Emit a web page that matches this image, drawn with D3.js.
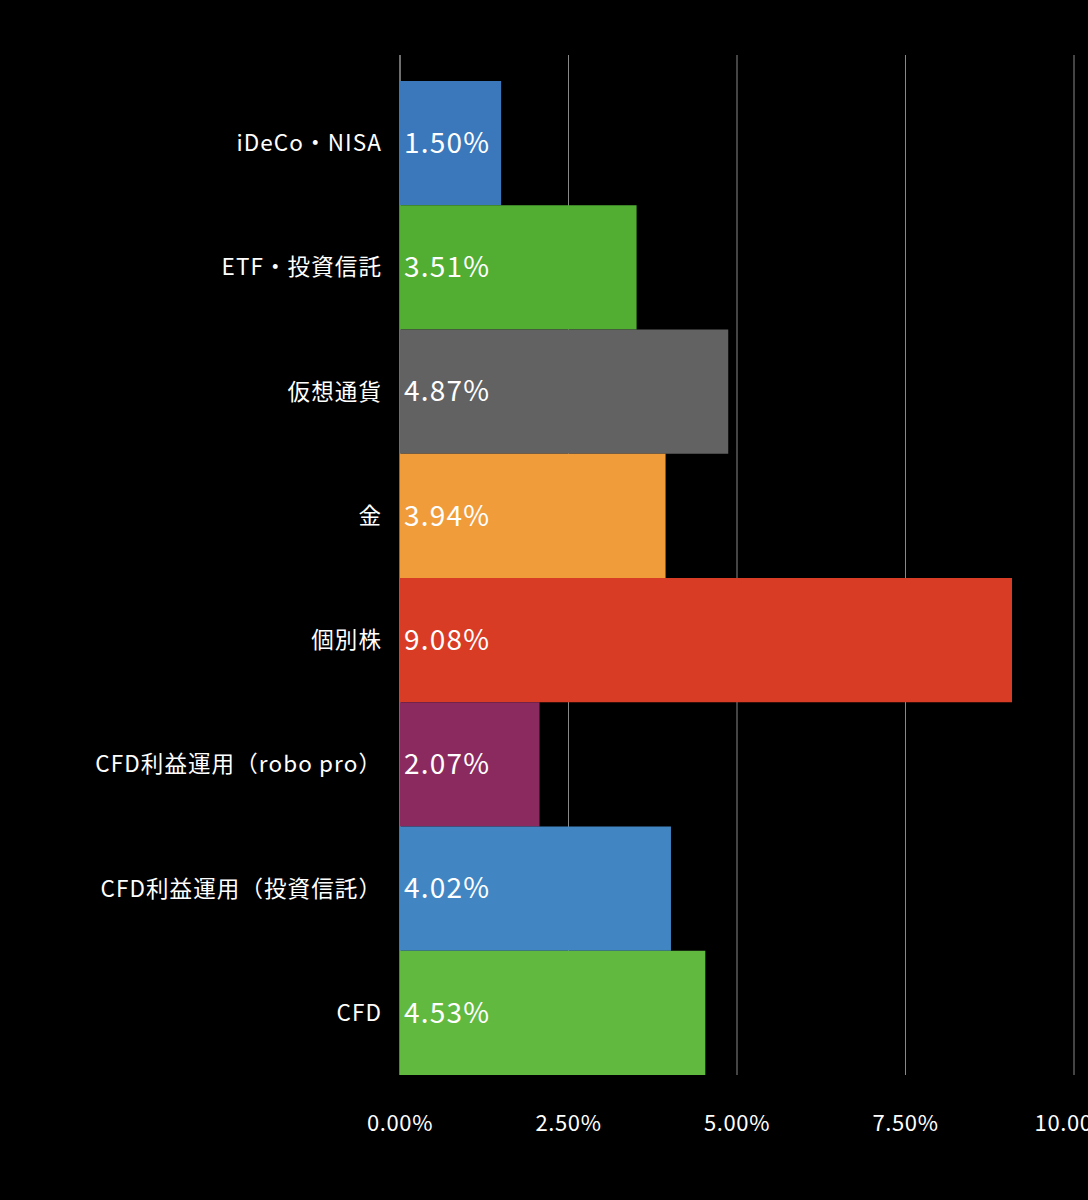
<!DOCTYPE html>
<html><head><meta charset="utf-8">
<script src="https://cdn.jsdelivr.net/npm/d3@7"></script>
<style>body{margin:0;background:#000}</style></head>
<body><svg id="c" width="1088" height="1200"></svg>
<script>
const categories=["iDeCo・NISA","ETF・投資信託","仮想通貨","金","個別株","CFD利益運用（robo pro）","CFD利益運用（投資信託）","CFD"];
const values=[1.50,3.51,4.87,3.94,9.08,2.07,4.02,4.53];
const colors=["#3a78bb","#52ad33","#626262","#f09c3b","#d93c25","#8b2a5e","#4186c2","#62b940"];
const ticks=[0,2.5,5,7.5,10];
const tickLabels=["0.00%","2.50%","5.00%","7.50%","10.00%"];
const svg=d3.select("#c");
svg.append("rect").attr("width",1088).attr("height",1200).attr("fill","#000");
const font="'Noto Sans CJK JP', 'Noto Sans', sans-serif";
const x=d3.scaleLinear().domain([0,10]).range([400,1074]);
const y=d3.scaleBand().domain(categories).range([81,1075]).padding(0);
svg.selectAll(".g").data(ticks).join("line").attr("x1",d=>x(d)).attr("x2",d=>x(d)).attr("y1",55).attr("y2",1075)
 .attr("stroke",d=>d===0?"#ddd":"#888").attr("stroke-width",1);
svg.selectAll(".b").data(values).join("rect").attr("x",x(0)).attr("y",(d,i)=>y(categories[i]))
 .attr("width",d=>x(d)-x(0)).attr("height",y.bandwidth()).attr("fill",(d,i)=>colors[i]);
svg.selectAll(".v").data(values).join("text").attr("x",x(0)+4).attr("y",(d,i)=>y(categories[i])+y.bandwidth()/2)
 .attr("dy","0.35em").attr("fill","#fff").attr("font-family",font).attr("font-size",28).attr("letter-spacing",1.2).text(d=>d.toFixed(2)+"%");
svg.selectAll(".c").data(categories).join("text").attr("x",382).attr("y",d=>y(d)+y.bandwidth()/2)
 .attr("dy","0.35em").attr("text-anchor","end").attr("fill","#fff").attr("font-family",font).attr("font-size",22.5).attr("letter-spacing",1.1).text(d=>d);
svg.selectAll(".t").data(ticks).join("text").attr("x",d=>x(d)).attr("y",1123).attr("dy","0.35em")
 .attr("text-anchor","middle").attr("fill","#fff").attr("font-family",font).attr("font-size",22).attr("letter-spacing",0.6).text((d,i)=>tickLabels[i]);
</script></body></html>
